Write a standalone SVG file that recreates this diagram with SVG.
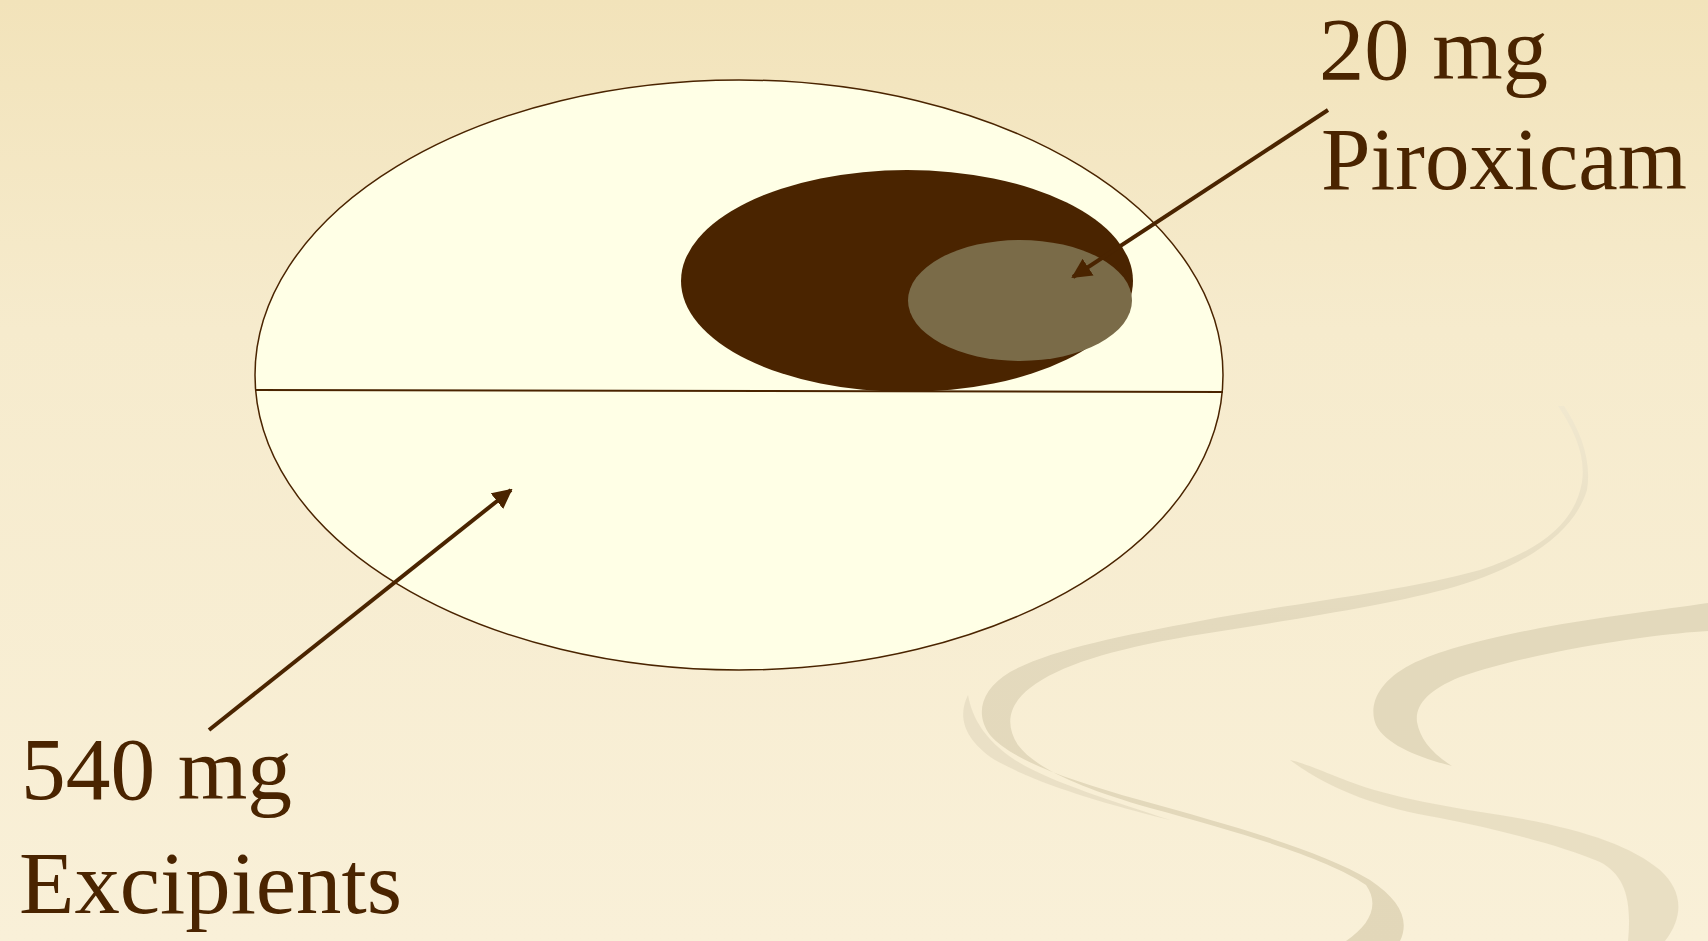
<svg xmlns="http://www.w3.org/2000/svg" width="1708" height="941" viewBox="0 0 1708 941">
<defs>
<linearGradient id="bg" x1="0" y1="0" x2="0" y2="1">
<stop offset="0" stop-color="#F2E3BA"/>
<stop offset="0.35" stop-color="#F6EBCD"/>
<stop offset="1" stop-color="#F9F0D8"/>
</linearGradient>
<linearGradient id="sw1" x1="0" y1="0" x2="0" y2="1">
<stop offset="0" stop-color="#F1E8CF"/>
<stop offset="0.4" stop-color="#E4DABE"/>
<stop offset="1" stop-color="#E2D7B9"/>
</linearGradient>
<marker id="ah" viewBox="0 0 10 10" refX="9" refY="5" markerWidth="5" markerHeight="5" orient="auto" markerUnits="strokeWidth">
<path d="M0,0 L10,5 L0,10 z" fill="#4A2400"/>
</marker>
<style>
.lbl{font-family:"Liberation Serif","Times New Roman",serif;font-size:88px;fill:#4A2400}
.conn{stroke:#4A2400;stroke-width:4;fill:none;marker-end:url(#ah)}
</style>
</defs>
<rect width="1708" height="941" fill="url(#bg)"/>
<g id="swirls">
<path d="M1558,406 C1574,430 1586,455 1582,482 C1576,518 1548,548 1480,570 C1400,592 1300,602 1200,621 C1120,636 1050,650 1010,672 C980,690 975,715 990,735 C1010,758 1060,778 1140,800 C1230,825 1320,850 1370,880 C1400,900 1410,920 1400,941 L1346,941 C1370,925 1380,905 1366,885 C1330,860 1250,835 1150,808 C1080,788 1035,768 1018,745 C1005,725 1008,705 1030,688 C1060,665 1110,650 1190,636 C1290,620 1390,605 1454,587 C1530,565 1575,530 1587,490 C1592,460 1580,430 1564,406 Z" fill="url(#sw1)"/>
<path d="M968,695 C958,715 962,738 995,760 C1040,785 1100,802 1170,820 C1110,800 1050,782 1015,760 C985,740 972,718 968,695 Z" fill="#E6DCC2" opacity="0.8"/>
<path d="M1708,603 C1660,610 1600,617 1540,628 C1480,640 1440,650 1410,665 C1378,682 1368,705 1376,725 C1386,745 1420,758 1452,766 C1430,752 1420,738 1417,722 C1415,705 1428,690 1460,677 C1510,660 1580,646 1640,638 C1670,634 1690,632 1708,631 Z" fill="#E3D9BC"/>
<path d="M1290,760 C1330,790 1380,808 1440,818 C1500,830 1560,845 1600,862 C1625,875 1632,900 1628,941 L1665,941 C1685,915 1682,890 1660,870 C1630,845 1580,828 1500,815 C1440,806 1380,795 1340,778 C1315,768 1300,762 1290,760 Z" fill="#E6DCC0" opacity="0.85"/>
</g>
<g id="tablet">
<ellipse cx="739" cy="375" rx="484" ry="295" fill="#FFFFE6" stroke="#4A2400" stroke-width="1.5"/>
</g>
<g id="drug">
<ellipse cx="907" cy="281" rx="226" ry="111" fill="#4A2400"/>
<ellipse cx="1020" cy="300.5" rx="112" ry="60.5" fill="#7A6B48"/>
</g>
<g id="divider">
<line x1="255" y1="390" x2="1223" y2="392" stroke="#4A2400" stroke-width="2"/>
</g>
<g id="connectors">
<line class="conn" x1="1328" y1="110" x2="1073" y2="277"/>
<line class="conn" x1="209" y1="730" x2="511" y2="490"/>
</g>
<g id="label-piroxicam">
<text class="lbl" x="1319" y="79" textLength="229" lengthAdjust="spacingAndGlyphs">20 mg</text>
<text class="lbl" x="1321" y="189" textLength="366" lengthAdjust="spacingAndGlyphs">Piroxicam</text>
</g>
<g id="label-excipients">
<text class="lbl" x="21" y="799" textLength="271" lengthAdjust="spacingAndGlyphs">540 mg</text>
<text class="lbl" x="19" y="913" textLength="383" lengthAdjust="spacingAndGlyphs">Excipients</text>
</g>
</svg>
